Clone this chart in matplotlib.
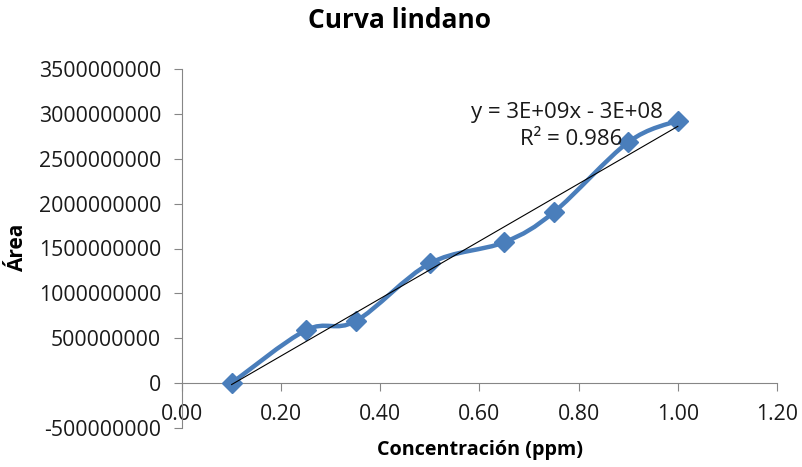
import numpy as np
import matplotlib
matplotlib.use("Agg")
import matplotlib.pyplot as plt
from matplotlib.path import Path
from matplotlib.patches import PathPatch

plt.rcParams['font.family'] = ['Open Sans', 'DejaVu Sans']

# datos de la curva
conc = [0.10, 0.25, 0.35, 0.50, 0.65, 0.75, 0.90, 1.00]
area = [0, 590000000, 690000000, 1335000000, 1570000000, 1905000000, 2685000000, 2925000000]
x_ticks = [0.0, 0.2, 0.4, 0.6, 0.8, 1.0, 1.2]
y_ticks = [-500000000, 0, 500000000, 1000000000, 1500000000, 2000000000,
           2500000000, 3000000000, 3500000000]

blue = "#4a7ebb"
gray = "#868686"

fig = plt.figure(figsize=(8.03, 4.67), dpi=100)
ax = fig.add_axes([182 / 803, 1 - 428 / 467, (777 - 182) / 803, (428 - 69) / 467])
ax.set_xlim(0, 1.2)
ax.set_ylim(-500000000, 3500000000)

# linea suavizada tipo Excel (Bezier con puntos de control Catmull-Rom)
pts = np.column_stack([conc, area]).astype(float)
verts = [pts[0]]
codes = [Path.MOVETO]
n = len(pts)
for i in range(n - 1):
    p0 = pts[max(i - 1, 0)]
    p1 = pts[i]
    p2 = pts[i + 1]
    p3 = pts[min(i + 2, n - 1)]
    c1 = p1 + (p2 - p0) / 6
    c2 = p2 - (p3 - p1) / 6
    verts += [c1, c2, p2]
    codes += [Path.CURVE4] * 3
ax.add_patch(PathPatch(Path(verts, codes), facecolor="none", edgecolor=blue,
                       lw=3.2, zorder=3, capstyle="round", joinstyle="round"))
ax.plot(conc, area, linestyle="none", marker="D", markersize=10,
        color=blue, zorder=4)

# linea de tendencia
m, b = np.polyfit(conc, area, 1)
xt = np.array([conc[0], conc[-1]])
ax.plot(xt, m * xt + b, color="black", lw=0.8, zorder=5)
ax.text(0.777, 3020000000, "y = 3E+09x - 3E+08", ha="center", va="center",
        fontsize=16, color="#1a1a1a", zorder=6)
ax.text(0.785, 2710000000, "R² = 0.986", ha="center", va="center",
        fontsize=16, color="#1a1a1a", zorder=6)

for s in ["top", "right"]:
    ax.spines[s].set_visible(False)
ax.spines["left"].set_position(("data", 0))
ax.spines["bottom"].set_position(("data", 0))
ax.spines["left"].set_color(gray)
ax.spines["bottom"].set_color(gray)

ax.set_xticks(x_ticks)
ax.set_xticklabels([f"{v:.2f}" for v in x_ticks])
ax.set_yticks(y_ticks)
ax.set_yticklabels([str(v) for v in y_ticks])
ax.tick_params(axis="both", colors=gray, length=6, labelsize=15.3,
               labelcolor="#1a1a1a")
ax.tick_params(axis="x", pad=9)
ax.tick_params(axis="y", pad=9)

fig.text(400 / 803, 1 - 21 / 467, "Curva lindano", ha="center", va="center",
         fontsize=19, fontweight="bold")
fig.text(480 / 803, 1 - 450 / 467, "Concentración (ppm)", ha="center", va="center",
         fontsize=14.2, fontweight="bold")
fig.text(18 / 803, 1 - 248 / 467, "Área", ha="center", va="center", rotation=90,
         fontsize=15, fontweight="bold")

fig.savefig("out.png", dpi=100)
